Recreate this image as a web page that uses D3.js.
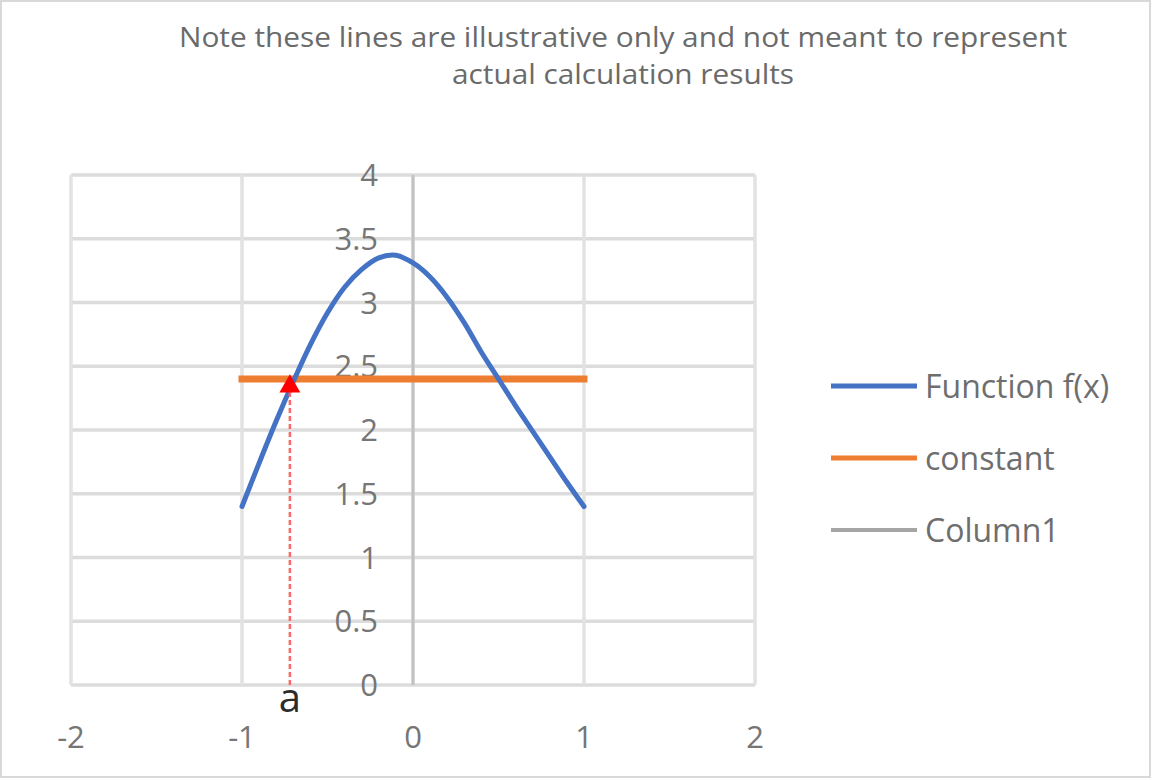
<!DOCTYPE html>
<html>
<head>
<meta charset="utf-8">
<script src="https://cdn.jsdelivr.net/npm/d3@7"></script>
<style>
    body { margin: 0; background: #ffffff; }
    svg { display: block; font-family: "Open Sans", "Liberation Sans", sans-serif; }
</style>
</head>
<body>
<div id="chart"></div>
<script>
// values
const titleLines = [
    "Note these lines are illustrative only and not meant to represent",
    "actual calculation results"
];

const fxX = [-1, -0.9, -0.8, -0.7, -0.6, -0.5, -0.4, -0.3, -0.2, -0.1, 0, 0.1, 0.2, 0.3, 0.4, 0.5, 0.6, 0.7, 0.8, 0.9, 1];
const fxY = [1.40, 1.74, 2.07, 2.38, 2.67, 2.92, 3.12, 3.26, 3.35, 3.37, 3.31, 3.20, 3.04, 2.84, 2.61, 2.40, 2.19, 1.99, 1.79, 1.59, 1.40];

const constX = [-1, 1];
const constY = [2.4, 2.4];

const column1X = [0, 0];
const column1Y = [0, 4];

const pointA = { label: "a", x: -0.72, y: 2.35 };

const xTicks = [-2, -1, 0, 1, 2];
const yTicks = [0, 0.5, 1, 1.5, 2, 2.5, 3, 3.5, 4];

const legendNames = ["Function f(x)", "constant", "Column1"];
const legendColors = ["#4472c4", "#ed7d31", "#a5a5a5"];

const width = 1152;
const height = 780;
const plot = { left: 71, right: 755, top: 175, bottom: 685 };

const svg = d3.select("#chart")
    .append("svg")
    .attr("width", width)
    .attr("height", height);

// outer chart frame
svg.append("rect")
    .attr("x", 1)
    .attr("y", 1)
    .attr("width", width - 3)
    .attr("height", height - 4)
    .attr("fill", "#ffffff")
    .attr("stroke", "#d9d9d9")
    .attr("stroke-width", 2);

const x = d3.scaleLinear().domain([-2, 2]).range([plot.left, plot.right]);
const y = d3.scaleLinear().domain([0, 4]).range([plot.bottom, plot.top]);

// title
svg.append("g")
    .selectAll("text")
    .data(titleLines)
    .enter()
    .append("text")
    .attr("x", 623)
    .attr("y", (d, i) => 47 + i * 37)
    .attr("text-anchor", "middle")
    .attr("font-size", 27)
    .attr("fill", "#6a6a6a")
    .attr("textLength", (d, i) => i === 0 ? 888 : 342)
    .attr("lengthAdjust", "spacingAndGlyphs")
    .text(d => d);

// gridlines
const grid = svg.append("g");
grid.selectAll(".hgrid")
    .data(yTicks)
    .enter()
    .append("line")
    .attr("x1", plot.left)
    .attr("x2", plot.right)
    .attr("y1", d => y(d))
    .attr("y2", d => y(d))
    .attr("stroke", "#dcdcdc")
    .attr("stroke-width", 3.5);

grid.selectAll(".vgrid")
    .data(xTicks)
    .enter()
    .append("line")
    .attr("x1", d => x(d))
    .attr("x2", d => x(d))
    .attr("y1", plot.top)
    .attr("y2", plot.bottom)
    .attr("stroke", "#e2e2e2")
    .attr("stroke-width", 3.5);

const line = d3.line()
    .x(d => x(d[0]))
    .y(d => y(d[1]));

// Column1 series (vertical at x = 0)
svg.append("path")
    .datum(d3.zip(column1X, column1Y))
    .attr("d", line)
    .attr("fill", "none")
    .attr("stroke", "#c2c2c2")
    .attr("stroke-width", 3);

// y tick labels sit next to the vertical line at x = 0
svg.append("g")
    .selectAll("text")
    .data(yTicks)
    .enter()
    .append("text")
    .attr("x", x(0) - 35)
    .attr("y", d => y(d))
    .attr("dy", "0.36em")
    .attr("text-anchor", "end")
    .attr("font-size", 31)
    .attr("fill", "#767676")
    .text(d => d);

// x tick labels
svg.append("g")
    .selectAll("text")
    .data(xTicks)
    .enter()
    .append("text")
    .attr("x", d => x(d))
    .attr("y", 737)
    .attr("dy", "0.36em")
    .attr("text-anchor", "middle")
    .attr("font-size", 31)
    .attr("fill", "#767676")
    .text(d => d);

// constant line
svg.append("path")
    .datum(d3.zip(constX, constY))
    .attr("d", line)
    .attr("fill", "none")
    .attr("stroke", legendColors[1])
    .attr("stroke-width", 7)
    .attr("stroke-linecap", "square");

// function f(x), smoothed like the spreadsheet line
svg.append("path")
    .datum(d3.zip(fxX, fxY))
    .attr("d", line.curve(d3.curveCatmullRom.alpha(0.5)))
    .attr("fill", "none")
    .attr("stroke", legendColors[0])
    .attr("stroke-width", 5)
    .attr("stroke-linecap", "round");

// dashed drop line from point a to the axis
svg.append("line")
    .attr("x1", x(pointA.x))
    .attr("x2", x(pointA.x))
    .attr("y1", y(0))
    .attr("y2", y(pointA.y))
    .attr("stroke", "#ff6666")
    .attr("stroke-width", 2.5)
    .attr("stroke-dasharray", "5,3");

svg.append("path")
    .attr("d", d3.symbol(d3.symbolTriangle, 190)())
    .attr("transform", `translate(${x(pointA.x)},${y(pointA.y) + 1})`)
    .attr("fill", "#ff0000");

svg.append("text")
    .attr("x", x(pointA.x))
    .attr("y", 712)
    .attr("text-anchor", "middle")
    .attr("font-size", 40)
    .attr("fill", "#2b2b2b")
    .text(pointA.label);

// legend
const legend = svg.append("g")
    .selectAll("g")
    .data(legendNames)
    .enter()
    .append("g")
    .attr("transform", (d, i) => `translate(831,${386 + i * 72})`);

legend.append("line")
    .attr("x1", 0)
    .attr("x2", 86)
    .attr("stroke", (d, i) => legendColors[i])
    .attr("stroke-width", (d, i) => i === 2 ? 4 : 5);

legend.append("text")
    .attr("x", 94)
    .attr("dy", "0.36em")
    .attr("font-size", 32)
    .attr("fill", "#6e6e6e")
    .text(d => d);
</script>
</body>
</html>
